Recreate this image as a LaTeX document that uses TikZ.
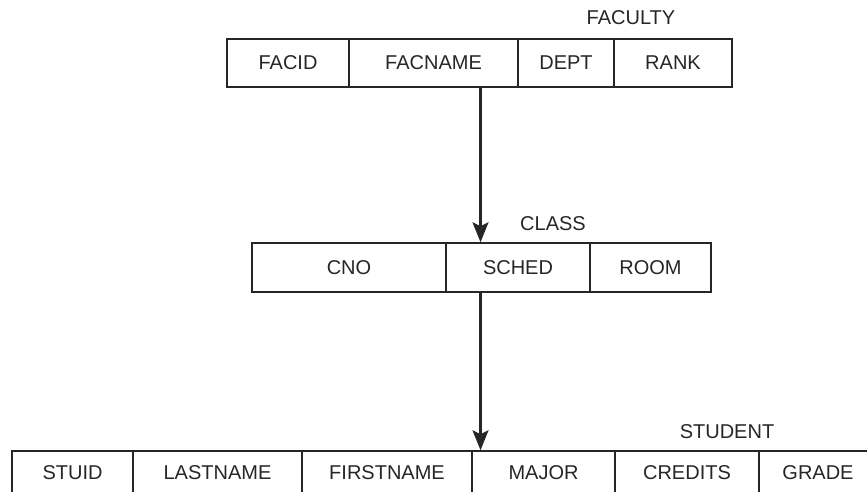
\documentclass[tikz,border=0pt]{standalone}
\usepackage{fontspec}
\setmainfont{Liberation Sans}
\usetikzlibrary{arrows.meta}
\begin{document}
\begin{tikzpicture}[x=1pt,y=-1pt,
  cell/.style={draw=black!85,line width=1.5pt,inner sep=0pt,minimum height=48pt,text=black!85,font=\fontsize{20}{24}\selectfont},
  scell/.style={cell,minimum height=44pt},
  tbl/.style={inner sep=0pt,text=black!85,font=\fontsize{20}{24}\selectfont},
  arr/.style={draw=black!85,line width=2.4pt,-{Stealth[length=20pt,width=16pt,inset=4pt]}}]
\useasboundingbox (0,0) rectangle (867,491);
\clip (0,0) rectangle (867,491);
% FACULTY
\node[tbl] (faculty) at (631,18) {FACULTY};
\node[cell,minimum width=122pt] (facid) at (288,63) {FACID};
\node[cell,minimum width=169pt] (facname) at (433.5,63) {FACNAME};
\node[cell,minimum width=96pt] (dept) at (566,63) {DEPT};
\node[cell,minimum width=118pt] (rank) at (673,63) {RANK};
% CLASS
\node[tbl] (class) at (553,224) {CLASS};
\node[cell,minimum width=194pt,minimum height=49pt] (cno) at (349,267.5) {CNO};
\node[cell,minimum width=144pt,minimum height=49pt] (sched) at (518,267.5) {SCHED};
\node[cell,minimum width=121pt,minimum height=49pt] (room) at (650.5,267.5) {ROOM};
% STUDENT
\node[tbl] (student) at (727,432) {STUDENT};
\node[scell,minimum width=121pt] (stuid) at (72.5,473) {STUID};
\node[scell,minimum width=169pt] (lastname) at (217.5,473) {LASTNAME};
\node[scell,minimum width=170pt] (firstname) at (387,473) {FIRSTNAME};
\node[scell,minimum width=143pt] (major) at (543.5,473) {MAJOR};
\node[scell,minimum width=144pt] (credits) at (687,473) {CREDITS};
\node[scell,minimum width=118pt] (grade) at (818,473) {GRADE};
% arrows
\draw[arr] (facname.south -| 480.5,0) -- (sched.north -| 480.5,0);
\draw[arr] (sched.south -| 480.5,0) -- (major.north -| 480.5,0);
\end{tikzpicture}
\end{document}
